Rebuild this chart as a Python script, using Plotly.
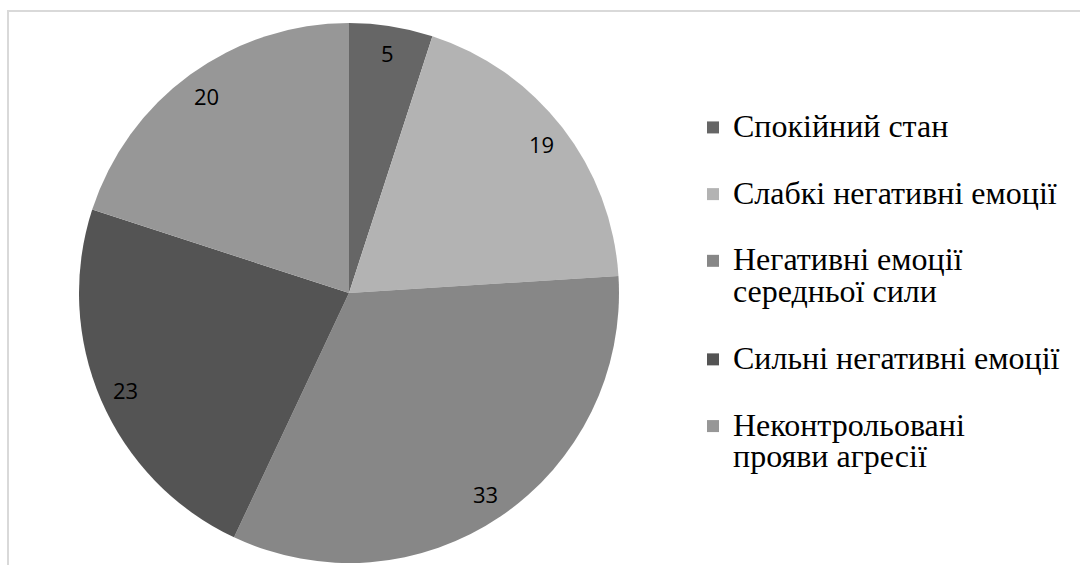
import math
import plotly.graph_objects as go

categories = [
    "Спокійний стан",
    "Слабкі негативні емоції",
    "Негативні емоції<br>середньої сили",
    "Сильні негативні емоції",
    "Неконтрольовані<br>прояви агресії",
]
values = [5, 19, 33, 23, 20]
colors = ["#666666", "#b3b3b3", "#878787", "#545454", "#979797"]

W, H = 1080, 565
dom_x = [79 / W, 619 / W]
dom_y = [(H - 563) / H, (H - 23) / H]


def legend_text(label):
    parts = label.split("<br>")
    return "<br>".join(f'<span style="font-size:32px">{p}</span>' for p in parts) + "<br> "


fig = go.Figure()
fig.add_trace(go.Pie(
    labels=[legend_text(c) for c in categories],
    values=values,
    sort=False,
    direction="clockwise",
    rotation=0,
    marker=dict(colors=colors, line=dict(width=0)),
    textinfo="none",
    hoverinfo="value",
    domain=dict(x=dom_x, y=dom_y),
))

cx_px = (dom_x[0] + dom_x[1]) / 2 * W
cy_px = (dom_y[0] + dom_y[1]) / 2 * H
r_px = min((dom_x[1] - dom_x[0]) * W, (dom_y[1] - dom_y[0]) * H) / 2
total = sum(values)
cum = 0
for v in values:
    mid = (cum + v / 2) / total * 2 * math.pi
    cum += v
    d = 0.9 * r_px
    x = cx_px + math.sin(mid) * d
    y = cy_px + math.cos(mid) * d
    fig.add_annotation(
        x=x / W, y=y / H, xref="paper", yref="paper",
        text=str(v), showarrow=False,
        font=dict(family="Open Sans", size=22, color="#000000"),
        xanchor="center", yanchor="middle",
    )

fig.add_shape(
    type="rect", xref="paper", yref="paper",
    x0=8 / W, x1=1.2, y0=-0.2, y1=(H - 11) / H,
    line=dict(color="#d9d9d9", width=2), fillcolor="rgba(0,0,0,0)", layer="below",
)

fig.update_layout(
    width=W, height=H,
    margin=dict(l=0, r=0, t=0, b=0),
    paper_bgcolor="#ffffff",
    plot_bgcolor="#ffffff",
    showlegend=True,
    legend=dict(
        x=693 / W, xanchor="left",
        y=(H - 105) / H, yanchor="top",
        valign="top",
        font=dict(family="Liberation Serif", size=24.5, color="#000000"),
        bgcolor="rgba(0,0,0,0)",
        traceorder="normal",
    ),
)

fig.write_html("out.html")
